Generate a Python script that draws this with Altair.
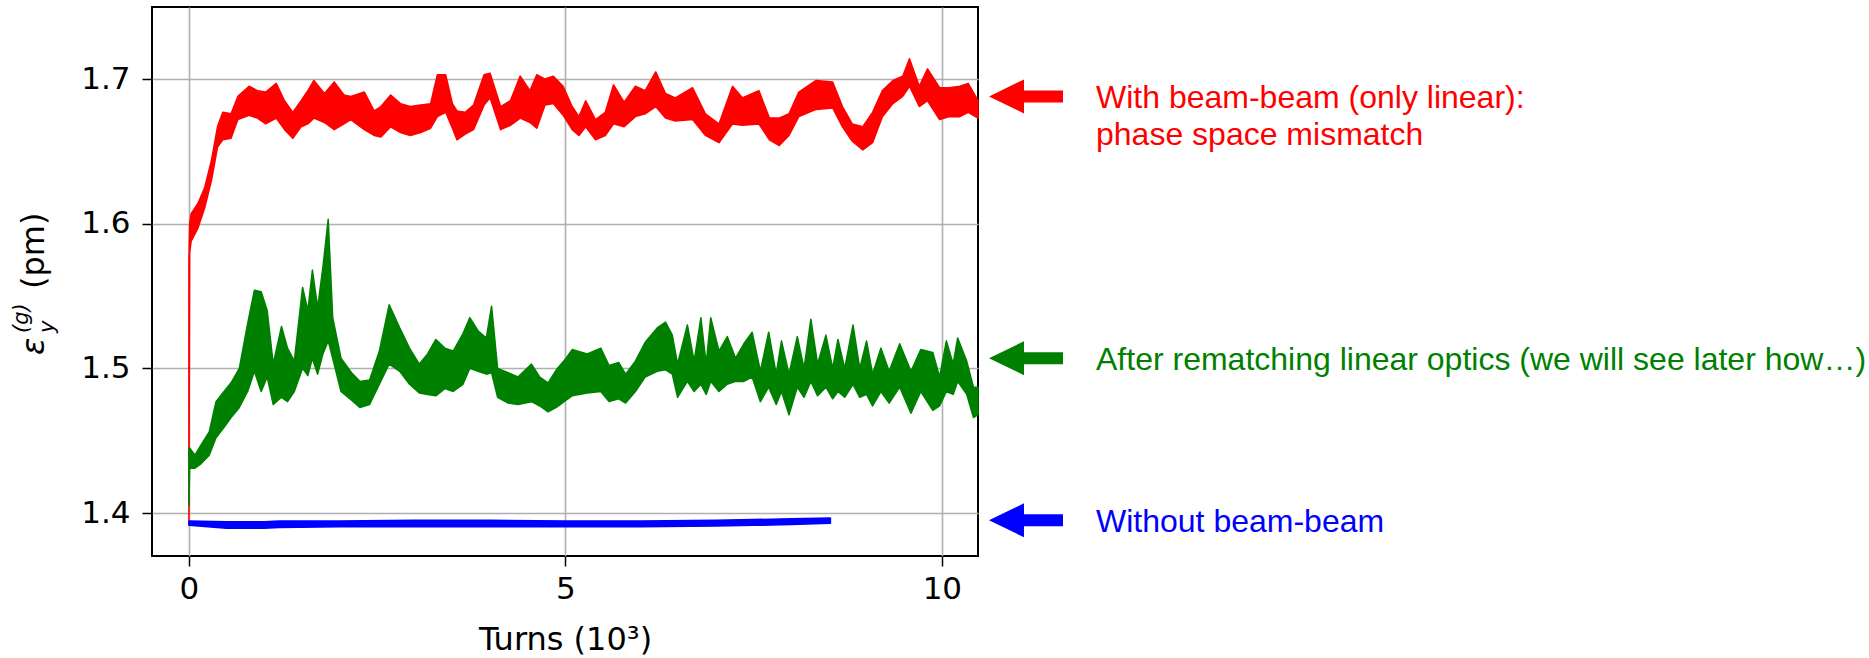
import altair as alt
import pandas as pd

# ---------------- data ----------------
# With beam-beam (only linear): envelope of the noisy trace (turns in 10^3, emittance in pm)
red_x = [0, 0.01, 0.03, 0.12, 0.21, 0.30, 0.38, 0.45, 0.56, 0.65, 0.80, 0.91, 1.02, 1.16, 1.27,
         1.38, 1.49, 1.58, 1.66, 1.80, 1.93, 2.06, 2.15, 2.33, 2.46, 2.55, 2.68, 2.81, 2.94,
         3.08, 3.21, 3.30, 3.41, 3.50, 3.56, 3.67, 3.78, 3.92, 4.00, 4.14, 4.27, 4.40, 4.53,
         4.62, 4.73, 4.84, 4.97, 5.09, 5.18, 5.27, 5.40, 5.53, 5.64, 5.78, 5.93, 6.06, 6.20,
         6.33, 6.46, 6.69, 6.86, 7.04, 7.22, 7.35, 7.57, 7.71, 7.84, 7.97, 8.10, 8.33, 8.55,
         8.68, 8.81, 8.95, 9.08, 9.21, 9.35, 9.48, 9.57, 9.70, 9.81, 9.97, 10.10, 10.24,
         10.35, 10.48]
red_lo = [1.392, 1.580, 1.588, 1.597, 1.611, 1.630, 1.653, 1.658, 1.659, 1.672, 1.675, 1.673,
          1.669, 1.673, 1.665, 1.659, 1.667, 1.669, 1.673, 1.670, 1.665, 1.669, 1.672, 1.665,
          1.661, 1.660, 1.667, 1.663, 1.661, 1.663, 1.666, 1.674, 1.677, 1.666, 1.658, 1.662,
          1.665, 1.682, 1.687, 1.665, 1.668, 1.673, 1.670, 1.666, 1.682, 1.683, 1.675, 1.665,
          1.661, 1.667, 1.658, 1.661, 1.669, 1.667, 1.674, 1.676, 1.681, 1.673, 1.671, 1.672,
          1.661, 1.656, 1.669, 1.668, 1.669, 1.658, 1.654, 1.661, 1.674, 1.679, 1.680, 1.667,
          1.657, 1.651, 1.656, 1.674, 1.683, 1.688, 1.695, 1.681, 1.685, 1.672, 1.674, 1.674,
          1.677, 1.673]
red_hi = [1.575, 1.600, 1.607, 1.614, 1.625, 1.644, 1.667, 1.677, 1.676, 1.688, 1.695, 1.692,
          1.691, 1.697, 1.685, 1.677, 1.685, 1.692, 1.699, 1.690, 1.698, 1.689, 1.688, 1.691,
          1.678, 1.681, 1.689, 1.683, 1.681, 1.682, 1.683, 1.703, 1.703, 1.683, 1.678, 1.677,
          1.682, 1.703, 1.704, 1.681, 1.685, 1.702, 1.692, 1.703, 1.700, 1.702, 1.695, 1.681,
          1.674, 1.685, 1.672, 1.677, 1.696, 1.684, 1.695, 1.692, 1.705, 1.690, 1.687, 1.694,
          1.676, 1.669, 1.695, 1.687, 1.692, 1.673, 1.673, 1.676, 1.691, 1.699, 1.698, 1.681,
          1.669, 1.667, 1.677, 1.692, 1.699, 1.702, 1.714, 1.695, 1.707, 1.694, 1.694, 1.695,
          1.697, 1.685]

# After rematching linear optics
green_x = [0, 0.01, 0.08, 0.16, 0.27, 0.36, 0.45, 0.56, 0.67, 0.78, 0.87, 0.96, 1.04, 1.12,
           1.23, 1.31, 1.40, 1.51, 1.58, 1.64, 1.71, 1.78, 1.85, 1.91, 2.02, 2.16, 2.27, 2.40,
           2.53, 2.66, 2.80, 2.93, 3.06, 3.17, 3.28, 3.40, 3.51, 3.64, 3.73, 3.84, 3.95, 4.02,
           4.10, 4.24, 4.37, 4.55, 4.66, 4.77, 4.88, 5.01, 5.09, 5.29, 5.47, 5.58, 5.71, 5.80,
           5.93, 6.06, 6.22, 6.33, 6.42, 6.49, 6.62, 6.71, 6.80, 6.87, 6.93, 7.04, 7.15, 7.26,
           7.37, 7.48, 7.59, 7.70, 7.80, 7.87, 7.97, 8.08, 8.17, 8.26, 8.35, 8.46, 8.55, 8.62,
           8.71, 8.82, 8.91, 9.00, 9.08, 9.19, 9.30, 9.44, 9.59, 9.72, 9.88, 9.97, 10.06,
           10.15, 10.21, 10.33, 10.42, 10.48]
green_lo = [1.405, 1.431, 1.431, 1.434, 1.440, 1.452, 1.458, 1.466, 1.473, 1.484, 1.498, 1.484,
            1.494, 1.475, 1.480, 1.477, 1.484, 1.500, 1.495, 1.507, 1.496, 1.510, 1.519, 1.507,
            1.484, 1.478, 1.473, 1.475, 1.489, 1.503, 1.498, 1.489, 1.483, 1.482, 1.481, 1.486,
            1.484, 1.489, 1.500, 1.498, 1.496, 1.497, 1.480, 1.476, 1.475, 1.477, 1.474, 1.470,
            1.473, 1.478, 1.481, 1.483, 1.484, 1.477, 1.479, 1.476, 1.484, 1.494, 1.498, 1.499,
            1.496, 1.480, 1.491, 1.484, 1.489, 1.482, 1.491, 1.484, 1.489, 1.491, 1.491, 1.494,
            1.477, 1.487, 1.475, 1.484, 1.468, 1.487, 1.480, 1.491, 1.481, 1.487, 1.479, 1.484,
            1.480, 1.489, 1.480, 1.482, 1.474, 1.484, 1.476, 1.487, 1.469, 1.484, 1.471, 1.474,
            1.484, 1.482, 1.491, 1.482, 1.466, 1.468]
green_hi = [1.445, 1.445, 1.440, 1.447, 1.456, 1.477, 1.483, 1.490, 1.500, 1.531, 1.554, 1.553,
            1.540, 1.503, 1.529, 1.514, 1.505, 1.556, 1.540, 1.568, 1.542, 1.570, 1.603, 1.535,
            1.507, 1.497, 1.491, 1.492, 1.512, 1.544, 1.528, 1.514, 1.503, 1.510, 1.520, 1.514,
            1.512, 1.524, 1.535, 1.526, 1.521, 1.543, 1.500, 1.497, 1.494, 1.503, 1.494, 1.490,
            1.499, 1.507, 1.513, 1.510, 1.514, 1.502, 1.504, 1.496, 1.505, 1.518, 1.528, 1.532,
            1.523, 1.503, 1.530, 1.505, 1.535, 1.503, 1.535, 1.512, 1.522, 1.507, 1.517, 1.525,
            1.498, 1.525, 1.496, 1.519, 1.496, 1.522, 1.500, 1.534, 1.503, 1.523, 1.500, 1.520,
            1.500, 1.530, 1.500, 1.519, 1.496, 1.514, 1.498, 1.517, 1.498, 1.513, 1.511, 1.494,
            1.519, 1.503, 1.521, 1.505, 1.487, 1.487]

# Without beam-beam
blue_x = [0, 0.5, 1.0, 1.2, 2.0, 3.0, 4.0, 5.0, 6.0, 7.0, 7.5, 8.0, 8.52]
blue_lo = [1.3915, 1.3895, 1.3895, 1.3900, 1.3905, 1.3905, 1.3905, 1.3905, 1.3905, 1.3910,
           1.3915, 1.3920, 1.3930]
blue_hi = [1.3945, 1.3940, 1.3940, 1.3945, 1.3945, 1.3950, 1.3950, 1.3945, 1.3945, 1.3950,
           1.3955, 1.3960, 1.3965]

series_names = ["With beam-beam (only linear)", "After rematching linear optics", "Without beam-beam"]
series_colors = ["#ff0000", "#008000", "#0000ff"]

# annotations on the right
ann_labels = ["With beam-beam (only linear):\nphase space mismatch",
              "After rematching linear optics (we will see later how\u2026)",
              "Without beam-beam"]
ann_y = [1.688, 1.507, 1.395]

x_ticks = [0, 5, 10]
y_ticks = [1.4, 1.5, 1.6, 1.7]
x_domain = [-0.49, 10.48]
y_domain = [1.3703, 1.7498]

# ---------------- chart ----------------
W, H = 826, 549
PAD = {"left": 152, "top": 7, "right": 1869 - 152 - W, "bottom": 658 - 7 - H}

xs = alt.Scale(domain=x_domain, nice=False, zero=False)
ys = alt.Scale(domain=y_domain, nice=False, zero=False)
x_axis = alt.Axis(values=x_ticks, title="Turns (10\u00b3)", labelPadding=8, titleY=93,
                  titleBaseline="alphabetic", grid=True)
y_axis = alt.Axis(values=y_ticks, format=".1f", title="", labelPadding=12, grid=True)

series_data = [(red_x, red_lo, red_hi), (green_x, green_lo, green_hi), (blue_x, blue_lo, blue_hi)]

layers = []
for i, (sx, slo, shi) in enumerate(series_data):
    d = pd.DataFrame({"x": sx, "lo": slo, "hi": shi, "series": series_names[i]})
    layers.append(
        alt.Chart(d).mark_area(color=series_colors[i], stroke=series_colors[i],
                               strokeWidth=1.5, fillOpacity=1, strokeJoin="round")
        .encode(x=alt.X("x:Q", scale=xs, axis=x_axis),
                y=alt.Y("lo:Q", scale=ys, axis=y_axis),
                y2="hi:Q")
    )

ann_df = pd.DataFrame({"label": ann_labels, "y": ann_y, "color": series_colors})
ARROW = ("M -1 0 L -0.054 -0.46 L -0.054 -0.162 L 1 -0.162 L 1 0.162 "
         "L -0.054 0.162 L -0.054 0.46 Z")
arrows = alt.Chart(ann_df).mark_point(shape=ARROW, size=5476, filled=True, opacity=1,
                                      strokeWidth=0).encode(
    x=alt.value(874),
    y=alt.Y("y:Q", scale=ys, axis=y_axis),
    color=alt.Color("color:N", scale=None),
)
ann_text = alt.Chart(ann_df).mark_text(align="left", baseline="alphabetic", dy=12,
                                       font="Liberation Sans", fontSize=32,
                                       lineBreak="\n", lineHeight=37).encode(
    x=alt.value(944),
    y=alt.Y("y:Q", scale=ys, axis=y_axis),
    text="label:N",
    color=alt.Color("color:N", scale=None),
)


def ytitle_piece(txt, px, py, size, italic):
    kw = dict(angle=270, align="left", baseline="alphabetic", font="DejaVu Sans",
              fontSize=size, color="black")
    if italic:
        kw["fontStyle"] = "italic"
    return alt.Chart(pd.DataFrame({"t": [txt]})).mark_text(**kw).encode(
        x=alt.value(px), y=alt.value(py), text="t:N")


ytitle = [
    ytitle_piece("\u03b5", -108, 348, 32, True),
    ytitle_piece("y", -98, 326, 21, True),
    ytitle_piece("(g)", -124, 326, 21, True),
    ytitle_piece("(pm)", -108, 282, 32, False),
]

chart = alt.layer(*layers, arrows, ann_text, *ytitle).properties(
    width=W, height=H, padding=PAD,
    autosize=alt.AutoSizeParams(type="none"),
    background="white",
).configure_axis(
    labelFont="DejaVu Sans", labelFontSize=31, labelColor="black",
    titleFont="DejaVu Sans", titleFontSize=32, titleColor="black", titleFontWeight="normal",
    tickColor="black", tickSize=10, tickWidth=1.5, domain=False,
    gridColor="#b0b0b0", gridWidth=1.6,
).configure_view(stroke="black", strokeWidth=2)

chart.save("out.html", embed_options={"renderer": "svg", "actions": False})
